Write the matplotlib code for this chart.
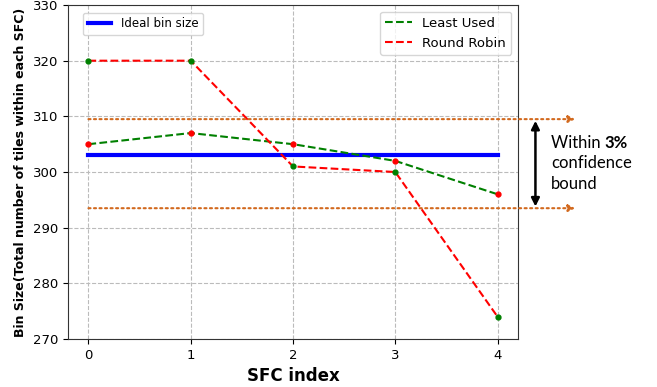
import numpy as np
import matplotlib.pyplot as plt

sfc_index = [0, 1, 2, 3, 4]
least_used = [305, 307, 305, 302, 296]
round_robin = [320, 320, 301, 300, 274]
ideal_size = 303
bound_hi = 309.5
bound_lo = 293.5

fig = plt.figure(figsize=(6.57, 3.87), dpi=100)
ax = fig.add_axes([0.1035, 0.124, 0.685, 0.863])

ideal, = ax.plot(sfc_index, [ideal_size] * len(sfc_index), color='blue', lw=3, label='Ideal bin size')
lu, = ax.plot(sfc_index, least_used, 'g--', lw=1.5, label='Least Used')
ax.plot(sfc_index, least_used, 'o', color='red', ms=3.5)
rr, = ax.plot(sfc_index, round_robin, 'r--', lw=1.5, label='Round Robin')
ax.plot(sfc_index, round_robin, 'o', color='green', ms=3.5)

ax.set_ylim(270, 330)
ax.set_xticks(sfc_index)
ax.grid(True, linestyle='--', color='#bbbbbb', lw=0.8)
ax.set_xlabel('SFC index', fontsize=12, fontweight='bold')
ax.set_ylabel('Bin Size(Total number of tiles within each SFC)', fontsize=9, fontweight='bold')
ax.tick_params(labelsize=9.5)
for s in ax.spines.values():
    s.set_color('#333333')

leg1 = ax.legend(handles=[ideal], loc='upper left', fontsize=8.5, bbox_to_anchor=(0.02, 0.995))
ax.add_artist(leg1)
ax.legend(handles=[lu, rr], loc='upper right', fontsize=9.5)

# confidence bound annotation
orange = '#d2691e'
for yb in [bound_hi, bound_lo]:
    ax.annotate('', xy=(4.76, yb), xytext=(0, yb), annotation_clip=False,
                arrowprops=dict(arrowstyle='-|>', linestyle=':', lw=1.5, color=orange,
                                shrinkA=0, shrinkB=0, mutation_scale=10))
ax.annotate('', xy=(4.37, bound_hi - 0.3), xytext=(4.37, bound_lo + 0.3), annotation_clip=False,
            arrowprops=dict(arrowstyle='<|-|>', lw=1.8, color='black',
                            shrinkA=0, shrinkB=0, mutation_scale=12))
t1 = ax.text(4.52, 305.3, 'Within ', fontsize=12, family='Lato', va='center', clip_on=False)
ax.annotate('3%', xy=(1, 0.5), xycoords=t1, fontsize=12, family='Lato', fontweight='bold',
            va='center', ha='left', annotation_clip=False)
ax.text(4.52, 301.6, 'confidence', fontsize=12, family='Lato', va='center', clip_on=False)
ax.text(4.52, 297.8, 'bound', fontsize=12, family='Lato', va='center', clip_on=False)

fig.savefig('out.png', dpi=100)
